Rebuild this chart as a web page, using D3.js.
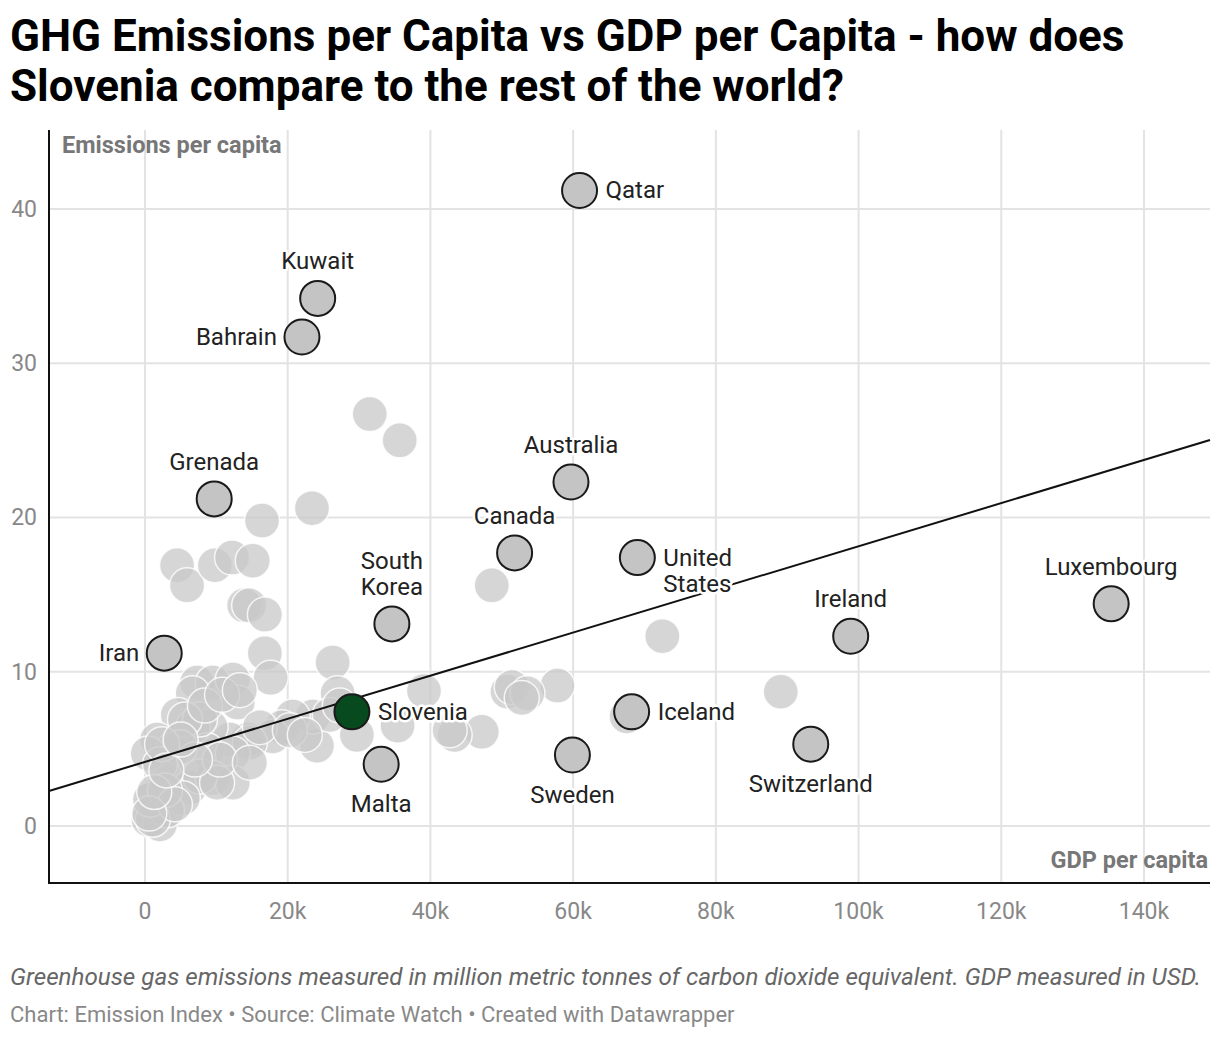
<!DOCTYPE html>
<html>
<head>
<meta charset="utf-8">
<script src="https://cdn.jsdelivr.net/npm/d3@7"></script>
<style>
  html, body { margin: 0; padding: 0; background: #fff; }
  body { width: 1220px; height: 1038px; overflow: hidden; font-family: Roboto, "Noto Sans", sans-serif; }
  svg { display: block; }
</style>
</head>
<body>
<svg id="chart" width="1220" height="1038"></svg>
<script>
// ---------- DATA ----------
const titleLines = ["GHG Emissions per Capita vs GDP per Capita - how does", "Slovenia compare to the rest of the world?"];
const yAxisTitle = "Emissions per capita";
const xAxisTitle = "GDP per capita";
const caption = "Greenhouse gas emissions measured in million metric tonnes of carbon dioxide equivalent. GDP measured in USD.";
const footer = "Chart: Emission Index \u2022 Source: Climate Watch \u2022 Created with Datawrapper";

const xTicks = [0, 20000, 40000, 60000, 80000, 100000, 120000, 140000];
const xTickLabels = ["0", "20k", "40k", "60k", "80k", "100k", "120k", "140k"];
const yTicks = [0, 10, 20, 30, 40];
const yTickLabels = ["0", "10", "20", "30", "40"];

// highlighted countries: name, GDP per capita (USD), emissions per capita, label side
const labeledNames = ["Qatar", "Kuwait", "Bahrain", "Grenada", "Australia", "Canada", "United States", "South Korea", "Iran", "Luxembourg", "Ireland", "Slovenia", "Malta", "Sweden", "Iceland", "Switzerland"];
const labeledGdp = [60900, 24200, 22000, 9700, 59700, 51800, 69000, 34600, 2700, 135400, 98900, 29000, 33100, 59900, 68200, 93300];
const labeledEm = [41.2, 34.2, 31.7, 21.2, 22.3, 17.7, 17.4, 13.1, 11.2, 14.4, 12.3, 7.4, 4.0, 4.6, 7.4, 5.3];
const labeledSide = ["right", "top", "left", "top", "top", "top", "right", "top", "left", "top", "top", "right", "bottom", "bottom", "right", "bottom"];

// other countries (unlabeled)
const otherGdp = [31500, 35700, 23400, 16400, 4500, 5900, 9800, 12200, 15100, 13900, 14600, 16800, 16800, 17600, 26300, 27000, 39100, 48600, 72500, 89100,
  57800, 50800, 51400, 53600, 52800, 47200, 43400, 42700, 67500, 35400, 29700, 24100, 23500, 20700, 19200, 17900, 14400, 11900, 25900, 27300,
  7300, 9500, 12300, 6700, 13000, 4600, 9200, 6700, 1700, 3800, 400, 8700, 14700, 12300, 3800, 6300, 9500, 12300, 1100, 1700,
  500, 2100, 7700, 5600, 4900, 7700, 10100, 5300, 3100, 1100, 700, 10500, 14700, 8400, 10800, 13300, 2100, 2800, 4200, 16100,
  20300, 22400, 7000, 2400, 600, 1300, 3000, 5000];
const otherEm = [26.7, 25.0, 20.6, 19.8, 16.9, 15.6, 16.9, 17.4, 17.2, 14.3, 14.3, 13.7, 11.2, 9.6, 10.6, 8.6, 8.75, 15.6, 12.3, 8.7,
  9.1, 8.7, 9.0, 8.6, 8.3, 6.1, 5.9, 6.2, 7.1, 6.5, 5.9, 5.2, 7.1, 7.1, 6.4, 5.8, 5.6, 5.6, 7.2, 7.8,
  9.3, 9.3, 9.5, 8.6, 8.0, 7.2, 6.4, 6.4, 5.6, 4.9, 4.7, 4.9, 5.4, 4.7, 3.0, 2.5, 3.1, 2.8, 1.9, 1.2,
  0.4, 0.1, 6.9, 6.9, 5.1, 3.2, 2.8, 1.8, 1.0, 0.4, 1.7, 4.3, 4.1, 7.8, 8.5, 8.8, 4.0, 2.3, 1.4, 6.4,
  6.2, 5.9, 4.3, 5.3, 0.8, 2.2, 3.6, 5.6];

// trend line endpoints (GDP, emissions)
const trendGdp = [-13450, 149250];
const trendEm = [2.27, 25.02];

// ---------- CHART ----------
const svg = d3.select("#chart");
const plot = { left: 49, right: 1210, top: 130, bottom: 883 };

const x = d3.scaleLinear().domain([-13450, 149250]).range([plot.left, plot.right]);
const y = d3.scaleLinear().domain([-3.70, 45.12]).range([plot.bottom, plot.top]);
const R = 17.5;

// title
svg.append("g").selectAll("text").data(titleLines).join("text")
  .attr("x", 10).attr("y", (d, i) => 51 + i * 50)
  .attr("font-size", 44).attr("font-weight", 700).attr("fill", "#000")
  .text(d => d);

// grid
const grid = svg.append("g");
grid.selectAll("line.h").data(yTicks).join("line")
  .attr("x1", plot.left).attr("x2", plot.right)
  .attr("y1", d => y(d)).attr("y2", d => y(d))
  .attr("stroke", "#e3e3e3").attr("stroke-width", 2);
grid.selectAll("line.v").data(xTicks).join("line")
  .attr("y1", plot.top).attr("y2", plot.bottom)
  .attr("x1", d => x(d)).attr("x2", d => x(d))
  .attr("stroke", "#e3e3e3").attr("stroke-width", 2);

// axes lines
svg.append("line").attr("x1", plot.left).attr("x2", plot.left).attr("y1", plot.top).attr("y2", plot.bottom)
  .attr("stroke", "#111").attr("stroke-width", 2);
svg.append("line").attr("x1", plot.left - 1).attr("x2", plot.right).attr("y1", plot.bottom).attr("y2", plot.bottom)
  .attr("stroke", "#111").attr("stroke-width", 2);

// tick labels
svg.append("g").selectAll("text").data(xTicks).join("text")
  .attr("x", d => x(d)).attr("y", 919)
  .attr("text-anchor", "middle").attr("font-size", 23).attr("fill", "#888")
  .text((d, i) => xTickLabels[i]);
svg.append("g").selectAll("text").data(yTicks).join("text")
  .attr("x", 37).attr("y", d => y(d) + 8)
  .attr("text-anchor", "end").attr("font-size", 23).attr("fill", "#888")
  .text((d, i) => yTickLabels[i]);

// axis titles
svg.append("text").attr("x", 62).attr("y", 153).attr("font-size", 23.5).attr("font-weight", 700)
  .attr("fill", "#777").text(yAxisTitle);
svg.append("text").attr("x", 1208).attr("y", 868).attr("text-anchor", "end").attr("font-size", 23.5).attr("font-weight", 700)
  .attr("fill", "#777").text(xAxisTitle);

// other bubbles
const others = otherGdp.map((g, i) => ({ g, e: otherEm[i] }));
svg.append("g").selectAll("circle").data(others).join("circle")
  .attr("cx", d => x(d.g)).attr("cy", d => y(d.e)).attr("r", R)
  .attr("fill", "#c8c8c8").attr("fill-opacity", 0.75)
  .attr("stroke", "#fff").attr("stroke-width", 1.5).attr("stroke-opacity", 0.8);

// trend line
svg.append("line")
  .attr("x1", x(trendGdp[0])).attr("y1", y(trendEm[0]))
  .attr("x2", x(trendGdp[1])).attr("y2", y(trendEm[1]))
  .attr("stroke", "#111").attr("stroke-width", 2);

// labeled bubbles
const labeled = labeledNames.map((n, i) => ({ n, g: labeledGdp[i], e: labeledEm[i], side: labeledSide[i] }));
svg.append("g").selectAll("circle").data(labeled).join("circle")
  .attr("cx", d => x(d.g)).attr("cy", d => y(d.e)).attr("r", R)
  .attr("fill", d => d.n === "Slovenia" ? "#064a1e" : "#c4c4c4")
  .attr("stroke", "#1a1a1a").attr("stroke-width", 2);

// labels
const lg = svg.append("g");
labeled.forEach(d => {
  const cx = x(d.g), cy = y(d.e);
  const words = d.n.includes(" ") ? d.n.split(" ") : [d.n];
  const lh = 26;
  let tx = cx, anchor = "middle", baseY;
  if (d.side === "right") { tx = cx + 26; anchor = "start"; baseY = cy + 8; }
  if (d.side === "left") { tx = cx - 25; anchor = "end"; baseY = cy + 8; }
  if (d.side === "top") { baseY = cy - 29 - (words.length - 1) * lh; }
  if (d.side === "bottom") { baseY = cy + 48; }
  const t = lg.append("text").attr("x", tx).attr("y", baseY).attr("text-anchor", anchor)
    .attr("font-size", 24).attr("fill", "#222")
    .attr("stroke", "#fff").attr("stroke-width", 5).attr("stroke-linejoin", "round").attr("paint-order", "stroke");
  words.forEach((w, i) => t.append("tspan").attr("x", tx).attr("dy", i === 0 ? 0 : lh).text(w));
});

// caption and footer
svg.append("text").attr("x", 10).attr("y", 985).attr("font-size", 24.2).attr("font-style", "italic")
  .attr("fill", "#666").text(caption);
svg.append("text").attr("x", 10).attr("y", 1022).attr("font-size", 22)
  .attr("fill", "#888").text(footer);
</script>
</body>
</html>
